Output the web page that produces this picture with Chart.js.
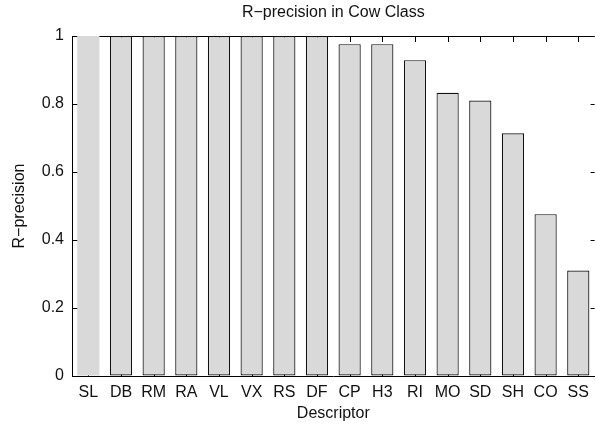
<!DOCTYPE html>
<html>
<head>
<meta charset="utf-8">
<script src="https://cdn.jsdelivr.net/npm/chart.js@4"></script>
<style>
  html, body { margin: 0; padding: 0; background: #fff; }
  #wrap { width: 596px; height: 427px; }
</style>
</head>
<body>
<div id="wrap"><canvas id="rprec" width="596" height="427"></canvas></div>
<script>
"use strict";

const descriptors = ['SL','DB','RM','RA','VL','VX','RS','DF','CP','H3','RI','MO','SD','SH','CO','SS'];
const rPrecision = [1, 1, 1, 1, 1, 1, 1, 1, 0.976, 0.976, 0.929, 0.833, 0.81, 0.714, 0.476, 0.31];
const yTicks = [0, 0.2, 0.4, 0.6, 0.8, 1];

// SL is drawn without an outline in the original
const outlineWidths = descriptors.map(d => d === 'SL' ? 0 : 1.2);

const FONT = "'Liberation Sans', Arial, sans-serif";
const INK = '#111';

// inward ticks + top frame line, drawn under the bars
const frameTicks = {
  id: 'frameTicks',
  beforeDatasetsDraw(chart) {
    const {ctx, chartArea: a, scales: {x, y}} = chart;
    ctx.save();
    ctx.strokeStyle = '#000';
    ctx.lineWidth = 1;
    ctx.beginPath();
    ctx.moveTo(a.left, a.top + 0.5);
    ctx.lineTo(a.right, a.top + 0.5);
    yTicks.forEach(v => {
      const py = Math.round(y.getPixelForValue(v)) + 0.5;
      ctx.moveTo(a.left, py); ctx.lineTo(a.left + 6, py);
      ctx.moveTo(a.right, py); ctx.lineTo(a.right - 4, py);
    });
    descriptors.forEach((d, i) => {
      const px = Math.round(x.getPixelForTick(i)) + 0.5;
      ctx.moveTo(px, a.top); ctx.lineTo(px, a.top + 6);
      ctx.moveTo(px, a.bottom); ctx.lineTo(px, a.bottom - 6);
    });
    ctx.stroke();
    ctx.restore();
  }
};

const rCtx = document.getElementById("rprec").getContext("2d");

const chart = new Chart(rCtx, {
  type: "bar",
  data: {
    labels: descriptors,
    datasets: [
      {
        label: "R-precision",
        data: rPrecision,
        backgroundColor: '#d9d9d9',
        borderColor: '#111',
        borderWidth: outlineWidths,
        borderSkipped: false,
        categoryPercentage: 1,
        barPercentage: 0.68,
      },
    ],
  },
  plugins: [frameTicks],
  options: {
    responsive: false,
    animation: false,
    layout: { padding: 0 },
    plugins: {
      legend: { display: false },
      tooltip: { enabled: false },
      title: {
        display: true,
        fullSize: false,
        text: "R\u2212precision in Cow Class",
        color: INK,
        font: { family: FONT, size: 16, weight: 'normal' },
        padding: { top: 3, bottom: 13.8 },
      },
    },
    scales: {
      x: {
        afterFit(scale) { scale.height = 51; },
        grid: { display: true, drawOnChartArea: false, drawTicks: false },
        border: { display: true, color: '#000', width: 1 },
        ticks: {
          color: INK,
          padding: 7,
          maxRotation: 0,
          font: { family: FONT, size: 16 },
        },
        title: {
          display: true,
          text: "Descriptor",
          color: INK,
          font: { family: FONT, size: 16 },
          padding: { top: 0, bottom: 4 },
        },
      },
      y: {
        min: 0,
        max: 1,
        afterFit(scale) { scale.width = 72; },
        grid: { display: true, drawOnChartArea: false, drawTicks: false },
        border: { display: true, color: '#000', width: 1 },
        ticks: {
          stepSize: 0.2,
          color: INK,
          padding: 8,
          font: { family: FONT, size: 16 },
          callback: v => String(Number(v.toFixed(1))),
        },
        title: {
          display: true,
          text: "R\u2212precision",
          color: INK,
          font: { family: FONT, size: 16 },
          padding: { top: 10, bottom: 0 },
        },
      },
    },
  },
});
</script>
</body>
</html>
